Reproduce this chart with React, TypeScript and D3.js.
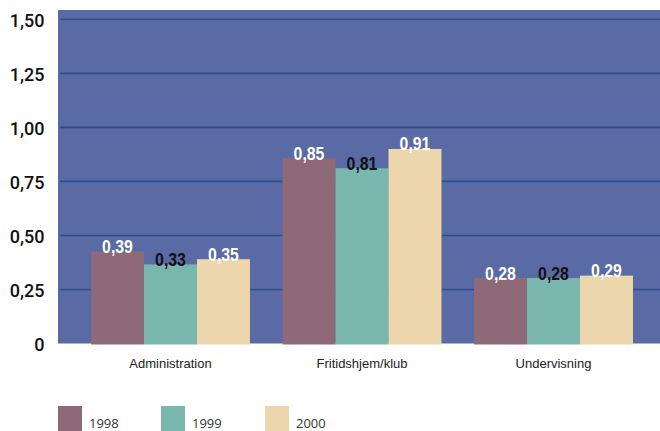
import React from "react";
import * as d3 from "d3";

const categories = ["Administration", "Fritidshjem/klub", "Undervisning"];
const seriesNames = ["1998", "1999", "2000"];
// bar heights as drawn in the picture
const values1998 = [0.425, 0.857, 0.303];
const values1999 = [0.366, 0.811, 0.303];
const values2000 = [0.39, 0.9, 0.314];
// printed value labels
const labels1998 = ["0,39", "0,85", "0,28"];
const labels1999 = ["0,33", "0,81", "0,28"];
const labels2000 = ["0,35", "0,91", "0,29"];
const yTicks = [0, 0.25, 0.5, 0.75, 1.0, 1.25, 1.5];
const yTickLabels = ["0", "0,25", "0,50", "0,75", "1,00", "1,25", "1,50"];

const colors = ["#8e6a78", "#79b6ad", "#ecd6ac"];
const labelColors = ["#ffffff", "#111111", "#ffffff"];

export default function App() {
  const W = 660;
  const H = 431;
  const plot = { left: 58, top: 10, right: 660, bottom: 343.5 };
  const y = d3.scaleLinear().domain([0, 1.5]).range([343.5, 19.3]);
  const x0 = d3
    .scaleBand<string>()
    .domain(categories)
    .range([74.75, 649.25])
    .paddingInner(0.17)
    .paddingOuter(0.085);
  const x1 = d3
    .scaleBand<string>()
    .domain(seriesNames)
    .range([0, x0.bandwidth()])
    .padding(0);

  const series = [
    { name: seriesNames[0], values: values1998, labels: labels1998 },
    { name: seriesNames[1], values: values1999, labels: labels1999 },
    { name: seriesNames[2], values: values2000, labels: labels2000 },
  ];

  const legendX = [58, 161, 265];

  return (
    <svg
      width={W}
      height={H}
      style={{ position: "absolute", left: 0, top: 0 }}
    >
      <rect x={0} y={0} width={W} height={H} fill="#ffffff" />
      <rect
        x={plot.left}
        y={plot.top}
        width={plot.right - plot.left}
        height={plot.bottom - plot.top}
        fill="#5a6aa5"
      />
      {yTicks
        .filter((t) => t > 0)
        .map((t) => (
          <line
            key={t}
            x1={60}
            x2={660}
            y1={y(t)}
            y2={y(t)}
            stroke="#2b4d93"
            strokeWidth={1.6}
          />
        ))}
      {yTicks.map((t, i) => (
        <text
          key={"yl" + t}
          x={44.5}
          y={y(t) + 1}
          dy="0.36em"
          textAnchor="end"
          fontFamily="Roboto, Liberation Sans, Arial, sans-serif"
          fontSize={18}
          fontWeight={500}
          fill="#111"
        >
          {yTickLabels[i]}
        </text>
      ))}
      {categories.map((c, ci) => (
        <g key={c} transform={`translate(${x0(c)},0)`}>
          {series.map((s, si) => (
            <rect
              key={s.name}
              x={x1(s.name)}
              y={y(s.values[ci])}
              width={x1.bandwidth()}
              height={y(0) - y(s.values[ci]) + 1}
              fill={colors[si]}
            />
          ))}
          {series.map((s, si) => (
            <g
              key={"l" + s.name}
              transform={`translate(${(x1(s.name) as number) + x1.bandwidth() / 2},${y(s.values[ci]) + 1.5}) scale(0.88,1)`}
            >
              <text
                x={0}
                y={0}
                textAnchor="middle"
                fontFamily="Liberation Sans, Arial, sans-serif"
                fontWeight="bold"
                fontSize={18}
                fill={labelColors[si]}
              >
                {s.labels[ci]}
              </text>
            </g>
          ))}
          <text
            x={x0.bandwidth() / 2}
            y={368}
            textAnchor="middle"
            fontFamily="Liberation Sans, Arial, sans-serif"
            fontSize={13}
            fill="#222"
          >
            {c}
          </text>
        </g>
      ))}
      {series.map((s, si) => (
        <g key={"lg" + s.name}>
          <rect x={legendX[si]} y={406} width={24} height={25} fill={colors[si]} />
          <text
            x={legendX[si] + 31}
            y={428}
            fontFamily="Open Sans, sans-serif"
            fontSize={13}
            fill="#333"
          >
            {s.name}
          </text>
        </g>
      ))}
    </svg>
  );
}
